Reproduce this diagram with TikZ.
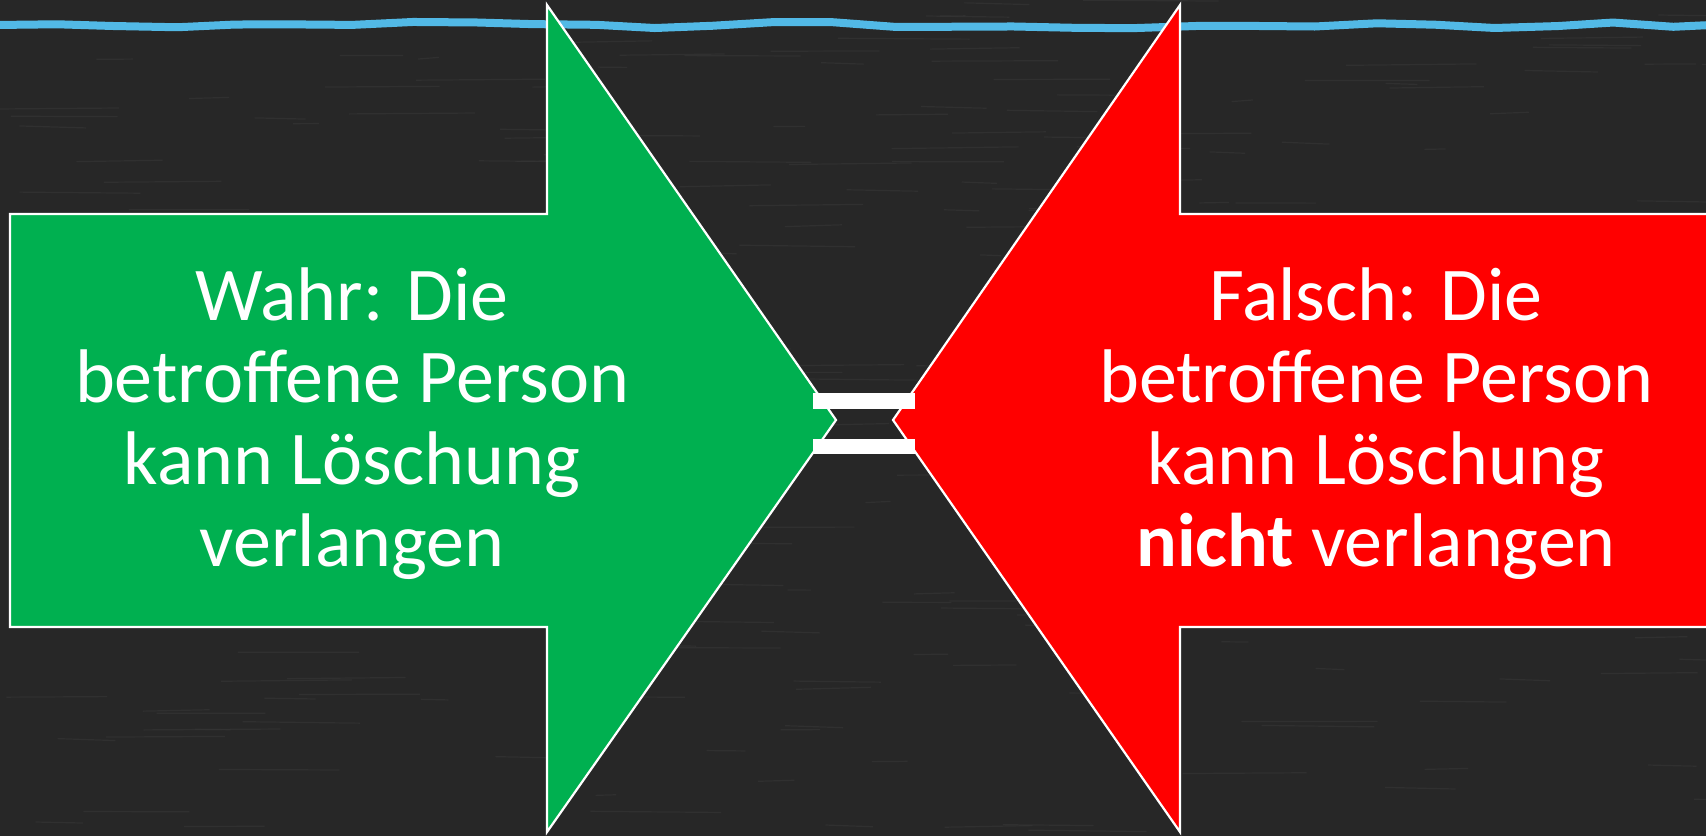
\documentclass[tikz,border=0pt]{standalone}
\usepackage{fontspec}
\setmainfont{Carlito}
\usetikzlibrary{decorations.pathmorphing}
\definecolor{board}{HTML}{272727}
\definecolor{streak}{HTML}{363636}
\definecolor{chalkblue}{HTML}{52B9E6}
\definecolor{arrowgreen}{HTML}{00B050}
\definecolor{arrowred}{HTML}{FF0000}
\tikzset{
  arrowshape/.style={draw=white, line width=1.1pt, line join=miter},
  bigtext/.style={text=white, align=center, font=\fontsize{38}{41}\selectfont, inner sep=0pt},
  bar/.style={fill=white, draw=none},
}
\begin{document}
\begin{tikzpicture}[x=0.5pt, y=-0.5pt]
  \useasboundingbox (0,0) rectangle (1706,836);
  \clip (0,0) rectangle (1706,836);
  \fill[board] (0,0) rectangle (1706,836);
  % chalkboard texture
  \pgfmathsetseed{7}
  \foreach \i in {1,...,260} {
    \pgfmathsetmacro{\xa}{rnd*1706}
    \pgfmathsetmacro{\ya}{rnd*836}
    \pgfmathsetmacro{\len}{20+rnd*120}
    \draw[streak, line width=0.6pt, opacity=0.6] (\xa,\ya) -- ++(\len,{rnd*4-2});
  }
  % blue chalk line
  \draw[chalkblue, line width=4pt, decorate, decoration={random steps, segment length=30, amplitude=1.6}]
    (-5,25) -- (1711,25);
  % green arrow
  \draw[arrowshape, fill=arrowgreen]
    (10,214) -- (547,214) -- (547,5) -- (836,420) -- (547,832) -- (547,627) -- (10,627) -- cycle;
  % red arrow
  \draw[arrowshape, fill=arrowred]
    (1720,214) -- (1180,214) -- (1180,5) -- (893,420) -- (1180,832) -- (1180,627) -- (1720,627);
  % equals bars
  \fill[bar] (813,393) rectangle (915,409);
  \fill[bar] (813,439) rectangle (915,454);
  % texts
  \node[bigtext] (wahr) at (352,424) {Wahr: Die\\betroffene Person\\kann Löschung\\verlangen};
  \node[bigtext] (falsch) at (1376,424) {Falsch: Die\\betroffene Person\\kann Löschung\\\textbf{nicht} verlangen};
\end{tikzpicture}
\end{document}
